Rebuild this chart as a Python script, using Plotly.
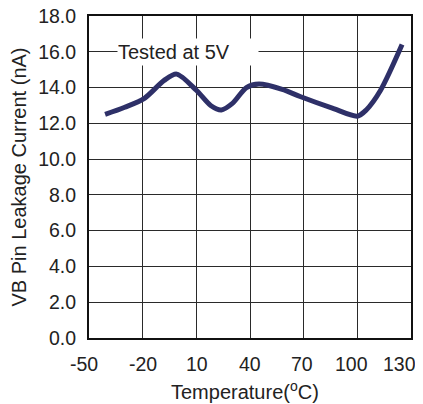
import plotly.graph_objects as go

temps = [-41, -30, -19, -8, -1, 10, 18, 24, 30, 38, 45, 58, 68, 86, 100, 105, 113, 125]
leak = [12.5, 12.9, 13.4, 14.4, 14.75, 13.85, 13.0, 12.75, 13.1, 14.0, 14.2, 13.9, 13.5, 12.85, 12.4, 12.75, 13.85, 16.4]

xticks = [-50, -20, 10, 40, 70, 100, 130]
xlabels = ["-50", "-20", "10", "40", "70", "100", "130"]
yticks = [0, 2, 4, 6, 8, 10, 12, 14, 16, 18]
ylabels = [f"{v:.1f}" for v in yticks]

# small horizontal nudges (px) of the x tick labels, as in the original layout
label_nudge = [-5, 0, 1, 0, -2, -6, -12]

FAM = "Liberation Sans, Arial"
tfont = dict(family=FAM, size=19.5, color="#222")
font = dict(family=FAM, size=20, color="#222")

fig = go.Figure()
fig.add_trace(go.Scatter(x=temps, y=leak, mode="lines",
                         line=dict(color="#2e3068", width=5, shape="spline", smoothing=0.8),
                         hoverinfo="skip", showlegend=False))

fig.add_annotation(x=5.5, y=16, xref="x", yref="y", text="Tested at 5V", showarrow=False,
                   bgcolor="white", font=font, width=140, height=26, align="left",
                   borderpad=0)

for xv, lab, dx in zip(xticks, xlabels, label_nudge):
    fig.add_annotation(x=xv, y=0, xref="x", yref="paper", text=lab, showarrow=False,
                       xanchor="center", yanchor="middle", xshift=dx, yshift=-26,
                       font=tfont)

# x-axis title
fig.add_annotation(x=0.485, y=0, xref="paper", yref="paper",
                   text="Temperature(<sup>o</sup>C)", showarrow=False,
                   xanchor="center", yanchor="middle", yshift=-52, font=font)

fig.update_layout(
    width=415, height=396,
    margin=dict(l=81, r=12, t=8, b=66),
    paper_bgcolor="white", plot_bgcolor="white",
    xaxis=dict(range=[-50, 130], tickvals=xticks, ticktext=xlabels, showticklabels=False,
               showgrid=True, gridcolor="#2a2a2a", gridwidth=1,
               showline=True, linecolor="#111", linewidth=2, mirror=True,
               ticks="", tickfont=tfont, zeroline=False, automargin=False),
    yaxis=dict(range=[0, 18], tickvals=yticks, ticktext=ylabels,
               showgrid=True, gridcolor="#2a2a2a", gridwidth=1,
               showline=True, linecolor="#111", linewidth=2, mirror=True,
               ticks="", tickfont=tfont, zeroline=False, automargin=False,
               ticklabelstandoff=7, ticklabeloverflow="allow",
               title=dict(text="VB Pin Leakage Current (nA)", font=font, standoff=6)),
)

fig.write_html("out.html")
